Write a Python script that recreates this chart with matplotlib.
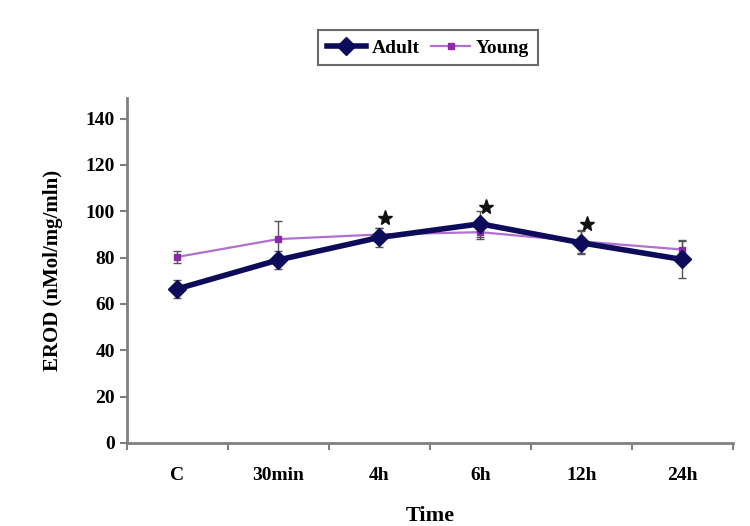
import numpy as np
import matplotlib.pyplot as plt

categories = ["C", "30min", "4h", "6h", "12h", "24h"]
adult = [66.5, 79, 88.7, 94.6, 86.4, 79.2]
adult_err = [4, 4, 4, 5.5, 5, 8]
young = [80.3, 88, 90, 91, 87, 83.5]
young_err = [2.5, 8, 3, 3, 5, 4]
star_idx = [2, 3, 4]
star_y = [97, 102, 94.5]

plt.rcParams['font.family'] = ['Liberation Serif', 'DejaVu Serif']
plt.rcParams['font.weight'] = 'bold'

fig = plt.figure(figsize=(7.5, 5.26), dpi=100)
ax = fig.add_axes([0.169, 0.158, 0.808, 0.656])

x = np.arange(len(categories))
ax.errorbar(x, young, yerr=young_err, fmt='none', ecolor='#555555', elinewidth=1, capsize=3, zorder=2)
ax.errorbar(x, adult, yerr=adult_err, fmt='none', ecolor='#555555', elinewidth=1, capsize=3, zorder=2)
ax.plot(x, adult, color='#0c0c5a', lw=4, marker='D', ms=9, label='Adult', zorder=4)
ax.plot(x, young, color='#b070d0', lw=1.6, marker='s', ms=5, mfc='#8a2aa8', mec='#8a2aa8', label='Young', zorder=3)

ax.plot(x[star_idx] + 0.06, star_y, ls='none', marker='*', ms=11, color='#111111', zorder=5)

ax.set_xlim(-0.5, len(categories) - 0.5)
ax.set_ylim(0, 149)
ax.set_yticks(np.arange(0, 141, 20))
ax.set_xticks(x)
ax.set_xticklabels(categories, fontsize=14, fontweight='bold')
ax.set_xticks(np.arange(-0.5, len(categories), 1), minor=True)
ax.tick_params(axis='x', which='major', length=0, pad=17)
ax.tick_params(axis='x', which='minor', length=5, width=1.5, color='#808080')
ax.tick_params(axis='y', length=5, width=1.5, color='#808080', labelsize=14)
for lbl in ax.get_yticklabels():
    lbl.set_fontweight('bold')

for s in ['top', 'right']:
    ax.spines[s].set_visible(False)
for s in ['left', 'bottom']:
    ax.spines[s].set_color('#808080')
    ax.spines[s].set_linewidth(2)

ax.set_xlabel('Time', fontsize=16, fontweight='bold', labelpad=16)
ax.set_ylabel('EROD (nMol/mg/mln)', fontsize=15, fontweight='bold', labelpad=16)

leg = fig.legend(loc='center', bbox_to_anchor=(0.571, 0.909), ncol=2, fontsize=14,
                 frameon=True, fancybox=False, edgecolor='#444444', handlelength=2.0,
                 columnspacing=0.6, handletextpad=0.3, borderpad=0.45)
leg.get_frame().set_linewidth(1.5)
for t in leg.get_texts():
    t.set_fontweight('bold')

fig.savefig('out.png', dpi=100)
